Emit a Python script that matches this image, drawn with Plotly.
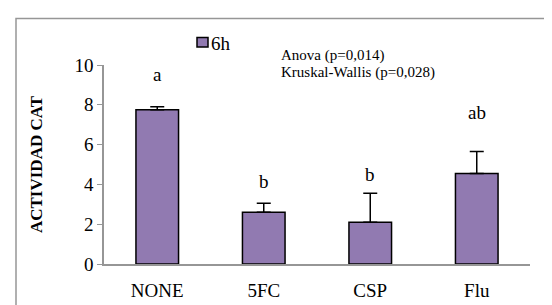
import plotly.graph_objects as go

categories = ["NONE", "5FC", "CSP", "Flu"]
values = [7.75, 2.6, 2.1, 4.55]
errors_up = [0.15, 0.45, 1.45, 1.1]
letters = ["a", "b", "b", "ab"]
letter_y = [9.5, 4.15, 4.5, 7.6]
series_name = "6h"

FONT = "Liberation Serif"
BAR = "rgb(145,122,177)"
GRAY = "rgb(150,150,150)"

def px_x(p):
    return (p - 96) / 426

def px_y(p):
    return (267 - p) / 210

fig = go.Figure()
fig.add_trace(go.Bar(
    x=categories, y=values, name=series_name, width=0.4,
    marker=dict(color=BAR, line=dict(color="black", width=1.5)),
    error_y=dict(type="data", symmetric=False, array=errors_up,
                 arrayminus=[0] * len(values), color="black", thickness=1.5, width=7),
    showlegend=False,
))

for c, t, yy in zip(categories, letters, letter_y):
    fig.add_annotation(x=c, y=yy, text=t, showarrow=False, xref="x", yref="y",
                       font=dict(family=FONT, size=19, color="black"))

fig.add_annotation(x=px_x(271), y=px_y(47), xref="paper", yref="paper",
                   text="Anova (p=0,014)", showarrow=False, xanchor="left", yanchor="middle",
                   font=dict(family=FONT, size=15, color="black"))
fig.add_annotation(x=px_x(271), y=px_y(65), xref="paper", yref="paper",
                   text="Kruskal-Wallis (p=0,028)", showarrow=False, xanchor="left", yanchor="middle",
                   font=dict(family=FONT, size=15, color="black"))

# legend (single series)
fig.add_shape(type="rect", xref="paper", yref="paper",
              x0=px_x(189), x1=px_x(200), y0=px_y(38), y1=px_y(28),
              line=dict(color="black", width=1.5), fillcolor=BAR)
fig.add_annotation(x=px_x(201), y=px_y(34), xref="paper", yref="paper",
                   text=series_name, showarrow=False, xanchor="left", yanchor="middle",
                   font=dict(family=FONT, size=19, color="black"))

fig.add_shape(type="rect", xref="paper", yref="paper",
              x0=px_x(8), y0=-0.3, x1=1.2, y1=px_y(8),
              line=dict(color=GRAY, width=1.5), fillcolor="rgba(0,0,0,0)", layer="below")

fig.update_layout(
    width=552, height=305,
    margin=dict(l=96, r=30, t=57, b=38),
    paper_bgcolor="white", plot_bgcolor="white",
    font=dict(family=FONT, size=18, color="black"),
    bargap=0.6,
    showlegend=False,
    xaxis=dict(showline=True, linecolor=GRAY, linewidth=1.5, ticks="", showgrid=False,
               tickfont=dict(family=FONT, size=19), ticklabelstandoff=8),
    yaxis=dict(range=[0, 10], dtick=2, showline=True, linecolor=GRAY, linewidth=1.5,
               ticks="outside", ticklen=5, tickcolor=GRAY, showgrid=False, zeroline=False,
               tickfont=dict(family=FONT, size=19),
               title=dict(text="<b>ACTIVIDAD CAT</b>", font=dict(family=FONT, size=17), standoff=28)),
)

fig.write_html("out.html")
